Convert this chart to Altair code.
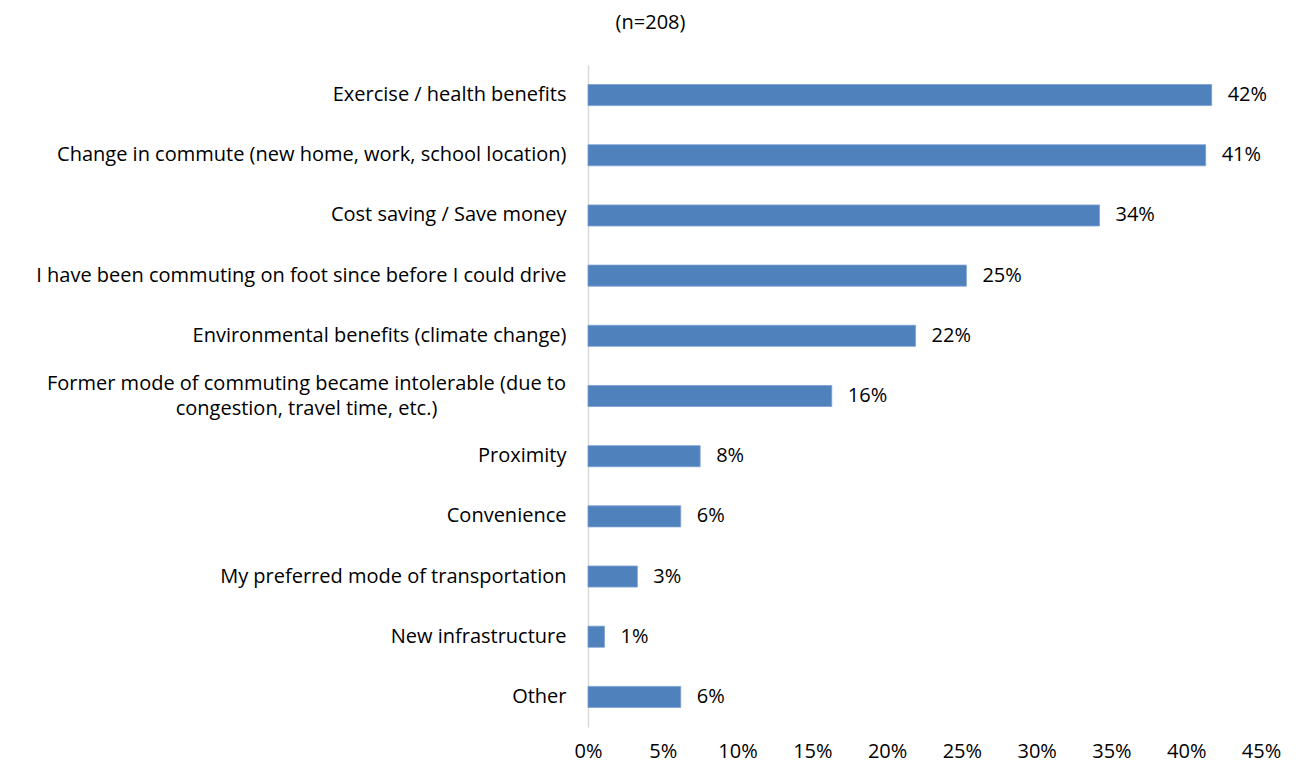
import altair as alt
import pandas as pd

categories = [
    "Exercise / health benefits",
    "Change in commute (new home, work, school location)",
    "Cost saving / Save money",
    "I have been commuting on foot since before I could drive",
    "Environmental benefits (climate change)",
    "Former mode of commuting became intolerable (due to\ncongestion, travel time, etc.)",
    "Proximity",
    "Convenience",
    "My preferred mode of transportation",
    "New infrastructure",
    "Other",
]
values = [41.7, 41.3, 34.2, 25.3, 21.9, 16.3, 7.5, 6.2, 3.3, 1.1, 6.2]
value_labels = ["42%", "41%", "34%", "25%", "22%", "16%", "8%", "6%", "3%", "1%", "6%"]
x_ticks = [0, 5, 10, 15, 20, 25, 30, 35, 40, 45]

df = pd.DataFrame({"cat": categories, "val": values, "lab": value_labels})

FONT = "Open Sans"
FS = 20
WRAP_TEST = "indexof(datum.value, 'Former') >= 0"

y_enc = alt.Y(
    "cat:N",
    sort=categories,
    title=None,
    scale=alt.Scale(paddingInner=0.65, paddingOuter=0.325),
    axis=alt.Axis(
        ticks=False,
        domain=True,
        domainColor="#d9d9d9",
        domainWidth=1.5,
        labelFont=FONT,
        labelFontSize=FS,
        labelColor="#000000",
        labelLimit=1000,
        labelExpr="split(datum.label, '\\n')",
        labelLineHeight=25,
        labelOffset={"condition": {"test": WRAP_TEST, "value": -12}, "value": 0},
        labelAlign={"condition": {"test": WRAP_TEST, "value": "center"}, "value": "right"},
        labelPadding={"condition": {"test": WRAP_TEST, "value": 282}, "value": 22},
    ),
)
x_enc = alt.X(
    "val:Q",
    title=None,
    scale=alt.Scale(domain=[0, 45], nice=False),
    axis=alt.Axis(
        values=x_ticks,
        grid=False,
        ticks=False,
        domain=False,
        labelFlush=False,
        labelFont=FONT,
        labelFontSize=FS,
        labelColor="#000000",
        labelPadding=14,
        labelExpr="datum.value + '%'",
    ),
)

bars = alt.Chart(df).mark_bar(color="#4f81bd", stroke="#7aa0d2", strokeWidth=0.8).encode(
    y=y_enc, x=x_enc
)
text = alt.Chart(df).mark_text(
    align="left", baseline="middle", dx=16, font=FONT, fontSize=FS, color="#000000"
).encode(y=alt.Y("cat:N", sort=categories), x="val:Q", text="lab:N")

chart = (
    alt.layer(bars, text)
    .properties(
        width=673,
        height=662,
        title=alt.TitleParams(
            "(n=208)", font=FONT, fontSize=FS, fontWeight="normal", color="#000000",
            anchor="middle", dx=-274, offset=32,
        ),
        autosize=alt.AutoSizeParams(type="none"),
        padding={"left": 580, "top": 57, "right": 30, "bottom": 38},
    )
    .configure_view(stroke=None)
)

chart.save("out.html", embed_options={"renderer": "svg", "actions": False})
